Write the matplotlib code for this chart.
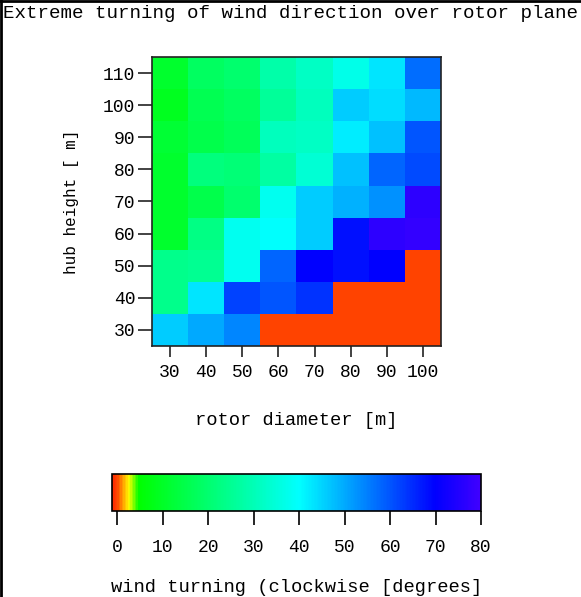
import numpy as np
import matplotlib
matplotlib.use('Agg')
import matplotlib.pyplot as plt
from matplotlib.colors import LinearSegmentedColormap, Normalize
from matplotlib.lines import Line2D

# rotor diameter (columns) and hub height (rows, bottom to top)
rotor_diameter = [30, 40, 50, 60, 70, 80, 90, 100]
hub_height = [30, 40, 50, 60, 70, 80, 90, 100, 110]

# wind turning in degrees, one row per hub height (30 m first)
turn_h30 = [46, 50, 54, 0, 0, 0, 0, 0]
turn_h40 = [24, 43, 62, 60, 64, 0, 0, 0]
turn_h50 = [24, 25, 38, 58, 70, 68, 70, 0]
turn_h60 = [11, 23, 38, 40, 46, 68, 77, 78]
turn_h70 = [11, 15, 20, 38, 46, 49, 53, 77]
turn_h80 = [11, 22, 21, 27, 34, 47, 58, 61]
turn_h90 = [12, 15, 17, 31, 32, 42, 47, 60]
turn_h100 = [9, 16, 18, 26, 31, 46, 44, 48]
turn_h110 = [11, 18, 20, 28, 32, 37, 43, 57]

cbar_ticks = [0, 10, 20, 30, 40, 50, 60, 70, 80]

turning = np.array([turn_h30, turn_h40, turn_h50, turn_h60, turn_h70,
                    turn_h80, turn_h90, turn_h100, turn_h110])

vmin, vmax = -1.25, 80.0
nodes = [(-1.25, (1.0, 0.15, 0.0)),
         (0.0, (1.0, 0.3, 0.0)),
         (1.0, (1.0, 0.6, 0.0)),
         (2.4, (1.0, 1.0, 0.0)),
         (4.5, (0.0, 1.0, 0.0)),
         (40.0, (0.0, 1.0, 1.0)),
         (70.0, (0.0, 0.0, 1.0)),
         (80.0, (0.25, 0.0, 1.0))]
cmap = LinearSegmentedColormap.from_list(
    'turn', [((v - vmin) / (vmax - vmin), c) for v, c in nodes])
norm = Normalize(vmin=vmin, vmax=vmax)

mono = 'Liberation Mono'

fig = plt.figure(figsize=(5.81, 5.97), dpi=100)

ax = fig.add_axes([152 / 581, 1 - 346 / 597, 289 / 581, 289 / 597])
dx = (rotor_diameter[1] - rotor_diameter[0]) / 2
dy = (hub_height[1] - hub_height[0]) / 2
ax.imshow(turning, cmap=cmap, norm=norm, origin='lower', aspect='auto',
          interpolation='nearest',
          extent=[rotor_diameter[0] - dx, rotor_diameter[-1] + dx,
                  hub_height[0] - dy, hub_height[-1] + dy])
ax.set_xticks(rotor_diameter)
ax.set_yticks(hub_height)
ax.tick_params(axis='x', length=8, width=1.2, pad=5, labelsize=13, colors='#222222')
ax.tick_params(axis='y', length=10, width=1.2, pad=2, labelsize=13, colors='#222222')
for lab in ax.get_xticklabels() + ax.get_yticklabels():
    lab.set_family(mono)
    lab.set_color('black')
for sp in ax.spines.values():
    sp.set_linewidth(1.2)
    sp.set_color('#222222')

ax.set_xlabel('rotor diameter [m]', family=mono, fontsize=13.5, labelpad=22)
ax.set_ylabel('hub height [ m]', family=mono, fontsize=11.5, labelpad=17)

cax = fig.add_axes([111.7 / 581, 1 - 511 / 597, 369.3 / 581, 37 / 597])
sm = plt.cm.ScalarMappable(norm=norm, cmap=cmap)
cb = fig.colorbar(sm, cax=cax, orientation='horizontal', ticks=cbar_ticks)
cb.outline.set_linewidth(1.2)
cb.outline.set_edgecolor('black')
cax.tick_params(length=10, width=1.2, pad=10, labelsize=13)
for lab in cax.get_xticklabels():
    lab.set_family(mono)
cax.set_xlabel('wind turning (clockwise [degrees]', family=mono, fontsize=13.5,
               labelpad=17)

fig.text(3 / 581, 1 - 14 / 597, 'Extreme turning of wind direction over rotor plane',
         family=mono, fontsize=13.8, ha='left', va='center')

# window frame on the left and top edges
fig.add_artist(Line2D([0.5 / 581, 0.5 / 581], [0, 1], color='black', lw=2,
                      transform=fig.transFigure))
fig.add_artist(Line2D([0, 1], [1 - 0.5 / 597, 1 - 0.5 / 597], color='black', lw=2,
                      transform=fig.transFigure))

fig.savefig('out.png', dpi=100)
